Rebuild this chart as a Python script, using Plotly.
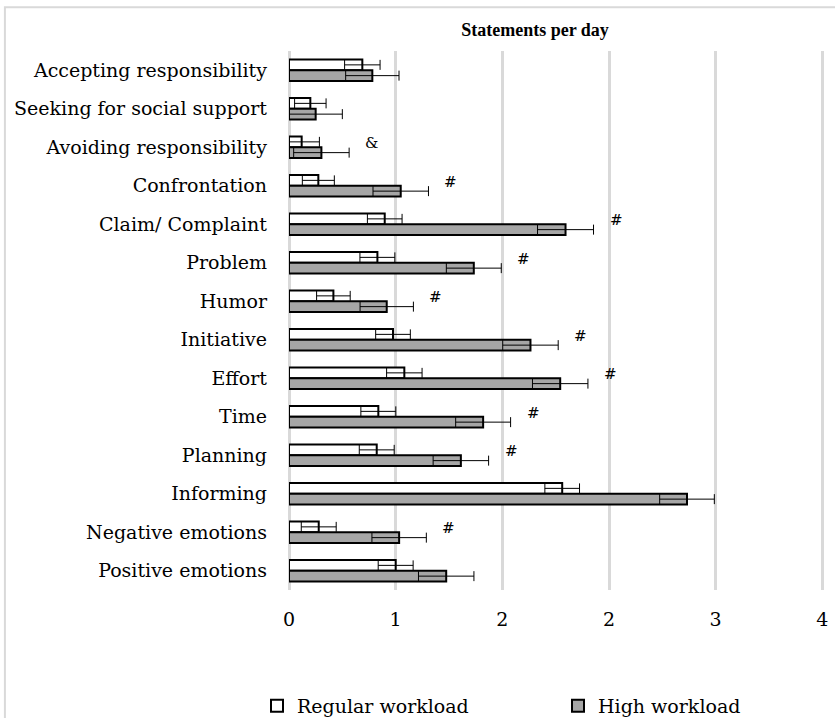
import plotly.graph_objects as go

# Coping categories, listed top to bottom
categories = [
    "Accepting responsibility",
    "Seeking for social support",
    "Avoiding responsibility",
    "Confrontation",
    "Claim/ Complaint",
    "Problem",
    "Humor",
    "Initiative",
    "Effort",
    "Time",
    "Planning",
    "Informing",
    "Negative emotions",
    "Positive emotions",
]

# Mean statements per day and error (symmetric) for each workload condition
regular_mean = [0.55, 0.16, 0.095, 0.22, 0.718, 0.663, 0.333, 0.78, 0.865, 0.67, 0.658, 2.049, 0.223, 0.80]
regular_err = [0.133, 0.118, 0.133, 0.12, 0.13, 0.131, 0.126, 0.13, 0.133, 0.131, 0.131, 0.13, 0.131, 0.131]
high_mean = [0.625, 0.20, 0.243, 0.838, 2.074, 1.386, 0.733, 1.811, 2.034, 1.456, 1.289, 2.985, 0.826, 1.179]
high_err = [0.20, 0.20, 0.208, 0.208, 0.21, 0.206, 0.20, 0.208, 0.208, 0.206, 0.208, 0.205, 0.204, 0.208]

# Significance markers next to the high-workload bars ("" = none)
sig_marks = ["", "", "&", "#", "#", "#", "#", "#", "#", "#", "#", "", "#", ""]

# Axis ticks: step of 0.8 shown with zero decimals
tick_vals = [0, 0.8, 1.6, 2.4, 3.2, 4.0]
tick_text = ["0", "1", "2", "2", "3", "4"]

FONT = "DejaVu Serif"
GRID = "#d9d9d9"

fig = go.Figure()
fig.add_trace(go.Bar(
    name="Regular workload", legend="legend", showlegend=True,
    y=categories, x=regular_mean, orientation="h",
    marker=dict(color="white", line=dict(color="black", width=2)),
    error_x=dict(type="data", array=regular_err, symmetric=True,
                 color="black", thickness=1, width=5),
))
fig.add_trace(go.Bar(
    name="High workload", legend="legend2", showlegend=True,
    y=categories, x=high_mean, orientation="h",
    marker=dict(color="#a6a6a6", line=dict(color="black", width=2)),
    error_x=dict(type="data", array=high_err, symmetric=True,
                 color="black", thickness=1, width=5),
))

for cat, m, e, s in zip(categories, high_mean, high_err, sig_marks):
    if s:
        fig.add_annotation(
            x=m + e, y=cat, text=s, showarrow=False,
            xanchor="left", xshift=14, yshift=4,
            font=dict(family=FONT, size=15, color="black"),
        )

# Outer chart frame
fig.add_shape(type="rect", xref="paper", yref="paper",
              x0=-0.53, x1=1.2, y0=-0.5, y1=1.081,
              line=dict(color=GRID, width=2), fillcolor="rgba(0,0,0,0)",
              layer="below")

legend_common = dict(orientation="h", xref="container", yref="container",
                     xanchor="left", yanchor="middle",
                     font=dict(family=FONT, size=19),
                     bgcolor="rgba(0,0,0,0)", visible=True)

fig.update_layout(
    width=835, height=718,
    showlegend=True,
    margin=dict(l=289, r=10, t=51, b=128, autoexpand=False),
    paper_bgcolor="white", plot_bgcolor="white",
    barmode="group", bargap=0.44, bargroupgap=0,
    font=dict(family=FONT, size=19, color="black"),
    title=dict(text="<b>Statements per day</b>", xref="container", yref="container",
               x=535 / 835, y=1 - 30 / 718, xanchor="center", yanchor="middle",
               font=dict(family="Liberation Serif", size=18, color="black")),
    xaxis=dict(range=[0, 4.02], tickvals=tick_vals, ticktext=tick_text,
               showgrid=True, gridcolor=GRID, gridwidth=3,
               zeroline=True, zerolinecolor=GRID, zerolinewidth=3,
               showline=False, ticks="", ticklabelstandoff=16, automargin=False,
               tickfont=dict(family=FONT, size=19)),
    yaxis=dict(autorange="reversed", showgrid=False, showline=False,
               ticks="", ticklabelstandoff=21, automargin=False,
               tickfont=dict(family=FONT, size=19)),
    legend=dict(x=257 / 835, y=1 - 706 / 718, **legend_common),
    legend2=dict(x=558 / 835, y=1 - 706 / 718, **legend_common),
)

fig.write_html("out.html")
